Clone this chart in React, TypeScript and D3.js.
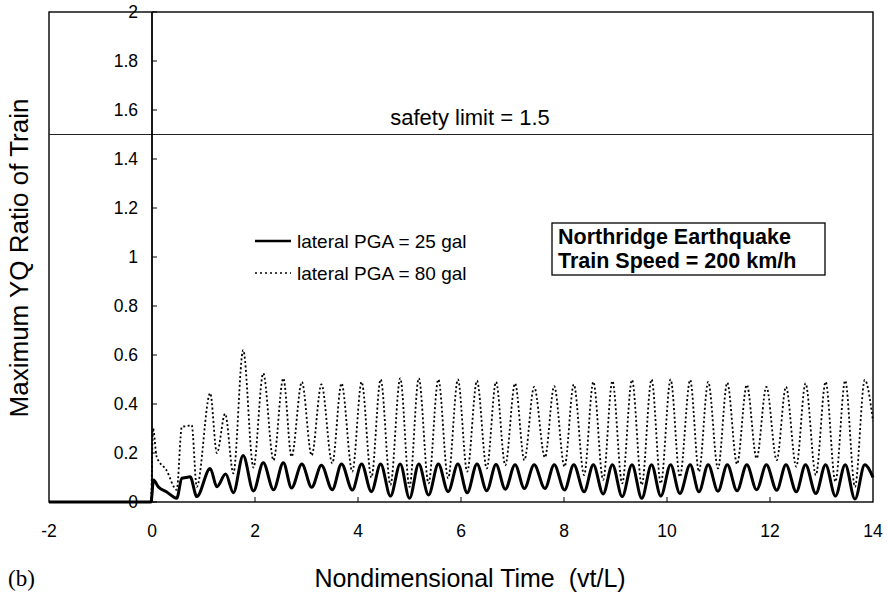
import React from "react";
import * as d3 from "d3";

// Maximum YQ ratio vs nondimensional time, Northridge record, 200 km/h.
// Each series is a list of [time, ratio] turning points of the response.
const pga25: [number, number][] = [
  [-2, 0], [-0.02, 0], [0.03, 0.09], [0.12, 0.062], [0.28, 0.042], [0.48, 0.015],
  [0.58, 0.097], [0.66, 0.1], [0.74, 0.103], [0.87, 0.022], [1.13, 0.137],
  [1.26, 0.062], [1.43, 0.114], [1.58, 0.038], [1.77, 0.19], [1.97, 0.045],
  [2.16, 0.16], [2.36, 0.05], [2.55, 0.16], [2.71, 0.057], [2.91, 0.155],
  [3.1, 0.06], [3.29, 0.15], [3.5, 0.05], [3.68, 0.155], [3.89, 0.049],
  [4.07, 0.155], [4.26, 0.042], [4.44, 0.155], [4.63, 0.024], [4.82, 0.155],
  [5.0, 0.015], [5.18, 0.155], [5.37, 0.029], [5.56, 0.155], [5.75, 0.042],
  [5.94, 0.155], [6.12, 0.038], [6.31, 0.155], [6.5, 0.046], [6.68, 0.153],
  [6.86, 0.052], [7.05, 0.152], [7.23, 0.055], [7.42, 0.152], [7.63, 0.055],
  [7.81, 0.152], [8.01, 0.049], [8.19, 0.152], [8.39, 0.042], [8.57, 0.152],
  [8.76, 0.033], [8.94, 0.152], [9.13, 0.022], [9.32, 0.152], [9.51, 0.015],
  [9.7, 0.152], [9.88, 0.024], [10.07, 0.152], [10.25, 0.035], [10.45, 0.152],
  [10.62, 0.042], [10.8, 0.152], [10.99, 0.044], [11.17, 0.152], [11.36, 0.046],
  [11.55, 0.152], [11.74, 0.05], [11.93, 0.152], [12.13, 0.048], [12.31, 0.152],
  [12.51, 0.042], [12.69, 0.152], [12.89, 0.035], [13.08, 0.152], [13.27, 0.024],
  [13.46, 0.152], [13.65, 0.012], [13.84, 0.152], [14.0, 0.1],
];

const pga80: [number, number][] = [
  [-2, 0], [-0.02, 0], [0.02, 0.3], [0.09, 0.185], [0.28, 0.13], [0.48, 0.05],
  [0.58, 0.307], [0.68, 0.31], [0.77, 0.314], [0.87, 0.062], [1.13, 0.444],
  [1.26, 0.2], [1.42, 0.36], [1.58, 0.117], [1.77, 0.62], [1.97, 0.14],
  [2.16, 0.525], [2.36, 0.17], [2.55, 0.505], [2.71, 0.185], [2.91, 0.49],
  [3.1, 0.19], [3.29, 0.48], [3.5, 0.158], [3.68, 0.484], [3.89, 0.124],
  [4.07, 0.49], [4.26, 0.1], [4.44, 0.5], [4.63, 0.07], [4.82, 0.505],
  [5.0, 0.062], [5.18, 0.505], [5.37, 0.076], [5.56, 0.5], [5.75, 0.097],
  [5.94, 0.5], [6.12, 0.124], [6.31, 0.495], [6.5, 0.137], [6.68, 0.49],
  [6.86, 0.15], [7.05, 0.484], [7.23, 0.171], [7.42, 0.47], [7.63, 0.182],
  [7.81, 0.473], [8.01, 0.144], [8.19, 0.48], [8.39, 0.11], [8.57, 0.49],
  [8.76, 0.09], [8.94, 0.494], [9.13, 0.076], [9.32, 0.498], [9.51, 0.07],
  [9.7, 0.5], [9.88, 0.076], [10.07, 0.5], [10.25, 0.103], [10.45, 0.498],
  [10.62, 0.124], [10.8, 0.49], [10.99, 0.137], [11.17, 0.487], [11.36, 0.155],
  [11.55, 0.478], [11.74, 0.178], [11.93, 0.47], [12.13, 0.171], [12.31, 0.47],
  [12.51, 0.144], [12.69, 0.484], [12.89, 0.11], [13.08, 0.49], [13.27, 0.083],
  [13.46, 0.495], [13.65, 0.062], [13.84, 0.498], [14.0, 0.33],
];

const xTicks = [-2, 0, 2, 4, 6, 8, 10, 12, 14];
const yTicks = [0, 0.2, 0.4, 0.6, 0.8, 1, 1.2, 1.4, 1.6, 1.8, 2];
const safetyLimit = 1.5;
const legendLabels = ["lateral PGA = 25 gal", "lateral PGA = 80 gal"];
const caseLines = ["Northridge Earthquake", "Train Speed = 200 km/h"];

const W = 887;
const H = 593;
const FONT = "'Liberation Sans', Arial, sans-serif";

export default function App() {
  const x = d3.scaleLinear().domain([-2, 14]).range([49, 873]);
  const y = d3.scaleLinear().domain([0, 2]).range([502, 12]);
  const line = d3
    .line<[number, number]>()
    .x((d) => x(d[0]))
    .y((d) => y(d[1]))
    .curve(d3.curveMonotoneX);

  const x0 = x(0);

  return (
    <svg
      width={W}
      height={H}
      style={{ position: "absolute", left: 0, top: 0, background: "#fff" }}
      fontFamily={FONT}
    >
      <rect x={0} y={0} width={W} height={H} fill="#fff" />

      {/* plot frame */}
      <rect
        x={x(-2)}
        y={y(2)}
        width={x(14) - x(-2)}
        height={y(0) - y(2)}
        fill="none"
        stroke="#000"
        strokeWidth={1.4}
      />

      {/* safety limit */}
      <line
        x1={x(-2)}
        x2={x(14)}
        y1={y(safetyLimit)}
        y2={y(safetyLimit)}
        stroke="#222"
        strokeWidth={1.2}
      />
      <text x={470} y={117} fontSize={22} textAnchor="middle" dominantBaseline="central">
        safety limit = {safetyLimit}
      </text>

      {/* y axis at t = 0 */}
      <line x1={x0} x2={x0} y1={y(0)} y2={y(2)} stroke="#000" strokeWidth={1.8} />
      {yTicks.map((t) => (
        <g key={t}>
          <line x1={x0} x2={x0 + 5} y1={y(t)} y2={y(t)} stroke="#000" strokeWidth={1} />
          <text
            x={x0 - 14}
            y={y(t)}
            fontSize={17.5}
            textAnchor="end"
            dominantBaseline="central"
          >
            {String(t)}
          </text>
        </g>
      ))}

      {/* x ticks */}
      {xTicks.map((t) => (
        <g key={t}>
          {t > 0 && t < 14 && (
            <line x1={x(t)} x2={x(t)} y1={y(0)} y2={y(0) - 5} stroke="#000" strokeWidth={1} />
          )}
          <text x={x(t)} y={531} fontSize={17.5} textAnchor="middle" dominantBaseline="central">
            {String(t)}
          </text>
        </g>
      ))}

      {/* response curves */}
      <path
        d={line(pga80) ?? ""}
        fill="none"
        stroke="#000"
        strokeWidth={1.8}
        strokeDasharray="2 2.4"
      />
      <path d={line(pga25) ?? ""} fill="none" stroke="#000" strokeWidth={3} strokeLinejoin="round" />

      {/* legend */}
      <line x1={255} x2={291} y1={241} y2={241} stroke="#000" strokeWidth={2.4} />
      <text x={297} y={241} fontSize={19} dominantBaseline="central">
        {legendLabels[0]}
      </text>
      <line
        x1={255}
        x2={291}
        y1={273}
        y2={273}
        stroke="#000"
        strokeWidth={1.4}
        strokeDasharray="2 3"
      />
      <text x={297} y={273} fontSize={19} dominantBaseline="central">
        {legendLabels[1]}
      </text>

      {/* case description */}
      <rect x={552} y={223} width={273} height={52} fill="#fff" stroke="#000" strokeWidth={1.3} />
      {caseLines.map((s, i) => (
        <text
          key={s}
          x={558}
          y={237 + i * 24}
          fontSize={21.5}
          fontWeight="bold"
          dominantBaseline="central"
        >
          {s}
        </text>
      ))}

      {/* axis titles */}
      <text
        transform={`translate(19, ${258}) rotate(-90)`}
        fontSize={26}
        textAnchor="middle"
        dominantBaseline="central"
      >
        Maximum YQ Ratio of Train
      </text>
      <text x={470} y={578} fontSize={25} textAnchor="middle" dominantBaseline="central">
        Nondimensional Time {"\u00a0"}(vt/L)
      </text>
      <text
        x={8}
        y={578}
        fontSize={23}
        fontFamily="'Liberation Serif', 'Times New Roman', serif"
        dominantBaseline="central"
      >
        (b)
      </text>
    </svg>
  );
}
